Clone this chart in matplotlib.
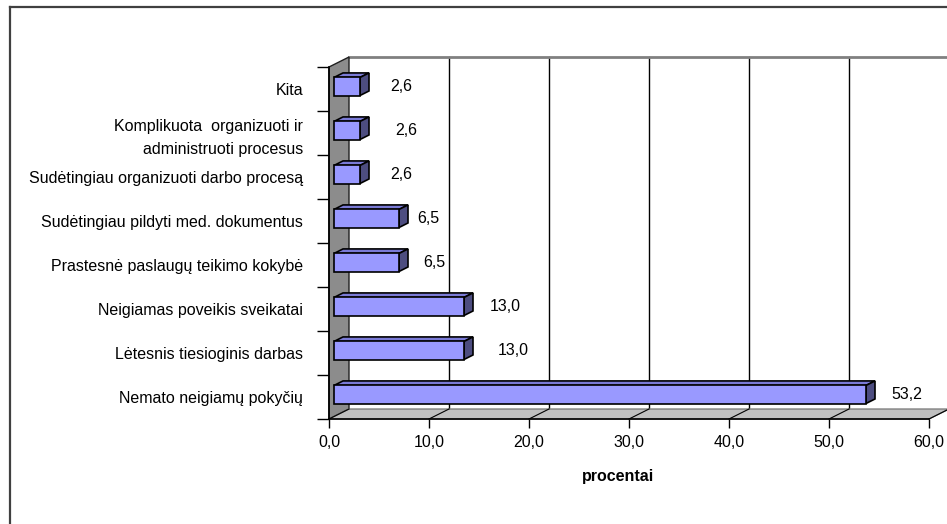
import matplotlib
matplotlib.use("Agg")
import matplotlib.pyplot as plt
from matplotlib.patches import Polygon, Rectangle
from matplotlib.lines import Line2D

plt.rcParams["font.family"] = ["Liberation Sans", "DejaVu Sans"]

# Categories listed bottom to top
categories = [
    "Nemato neigiamų pokyčių",
    "Lėtesnis tiesioginis darbas",
    "Neigiamas poveikis sveikatai",
    "Prastesnė paslaugų teikimo kokybė",
    "Sudėtingiau pildyti med. dokumentus",
    "Sudėtingiau organizuoti darbo procesą",
    "Komplikuota  organizuoti ir\nadministruoti procesus",
    "Kita",
]
values = [53.2, 13.0, 13.0, 6.5, 6.5, 2.6, 2.6, 2.6]
value_labels = ["53,2", "13,0", "13,0", "6,5", "6,5", "2,6", "2,6", "2,6"]
x_ticks = [0, 10, 20, 30, 40, 50, 60]
x_tick_labels = ["0,0", "10,0", "20,0", "30,0", "40,0", "50,0", "60,0"]
x_label = "procentai"

# gap between each bar end and its value label (x units)
label_gap = [2.5, 3.4, 2.6, 2.4, 1.8, 3.0, 3.5, 3.0]

FS = 11.5

W, H = 947, 524
fig = plt.figure(figsize=(W / 100, H / 100), dpi=100)

# front plane of the plot in pixels: x 329..929, y 67..419
ax = fig.add_axes([329 / W, (H - 419) / H, 600 / W, 352 / H])
n = len(categories)
xmax = 60
ax.set_xlim(0, xmax)
ax.set_ylim(0, n)

# depth offset of the back wall in data units
DX, DY = 2.0, 0.227
# bar depth: front face and back face offsets
FX, FY = 0.5, 0.057
BX, BY = 1.4, 0.16
bar_h = 0.41

# back wall gridlines and top edge
for xv in x_ticks[1:-1]:
    ax.add_line(Line2D([xv + DX, xv + DX], [DY, n + DY], color="black",
                       lw=1.0, clip_on=False, zorder=1))
ax.add_line(Line2D([DX, xmax + DX], [n + DY, n + DY], color="#808080",
                   lw=2.0, clip_on=False, zorder=1))

# left side wall
ax.add_patch(Polygon([(0, 0), (0, n), (DX, n + DY), (DX, DY)], closed=True,
                     facecolor="#8c8c8c", edgecolor="#202020", lw=1.0,
                     clip_on=False, zorder=2))
# floor
ax.add_patch(Polygon([(0, 0), (xmax, 0), (xmax + DX, DY), (DX, DY)], closed=True,
                     facecolor="#c0c0c0", edgecolor="#808080", lw=1.0,
                     clip_on=False, zorder=2))
for xv in x_ticks:
    ax.add_line(Line2D([xv, xv + DX], [0, DY], color="black", lw=0.8,
                       clip_on=False, zorder=3))

# 3D bars
front_c, top_c, side_c = "#9999ff", "#7a7ad6", "#4d4d80"
for i, v in enumerate(values):
    y0 = i + 0.5 - bar_h / 2
    y1 = i + 0.5 + bar_h / 2
    ax.add_patch(Polygon([(FX, y1 + FY), (v + FX, y1 + FY), (v + BX, y1 + BY), (BX, y1 + BY)],
                         closed=True, facecolor=top_c, edgecolor="black", lw=1.2,
                         clip_on=False, zorder=4))
    ax.add_patch(Polygon([(v + FX, y0 + FY), (v + FX, y1 + FY), (v + BX, y1 + BY), (v + BX, y0 + BY)],
                         closed=True, facecolor=side_c, edgecolor="black", lw=1.2,
                         clip_on=False, zorder=4))
    ax.add_patch(Rectangle((FX, y0 + FY), v, bar_h, facecolor=front_c,
                           edgecolor="black", lw=1.2, clip_on=False, zorder=5))
    ax.text(v + FX + label_gap[i], i + 0.5 + FY, value_labels[i], ha="left",
            va="center", fontsize=FS, color="black", zorder=6)

# axes lines and ticks
for s in ["top", "right"]:
    ax.spines[s].set_visible(False)
for s in ["left", "bottom"]:
    ax.spines[s].set_color("black")
    ax.spines[s].set_linewidth(1.2)
    ax.spines[s].set_zorder(3)
ax.patch.set_visible(False)

ax.set_xticks(x_ticks)
ax.set_xticklabels(x_tick_labels, fontsize=FS)
ax.tick_params(axis="x", direction="out", length=6.5, width=1.0, pad=5)

ax.set_yticks(range(n + 1))
ax.set_yticklabels([])
ax.set_yticks([i + 0.5 for i in range(n)], minor=True)
ax.set_yticklabels(categories, minor=True, fontsize=FS, linespacing=1.65)
ax.tick_params(axis="y", which="major", direction="out", length=8.6, width=1.0)
ax.tick_params(axis="y", which="minor", length=0, pad=18.7)

fig.text(618 / W, 1 - 476 / H, x_label, ha="center", va="center",
         fontsize=FS, fontweight="bold")

# outer chart frame
fig.add_artist(Line2D([10 / W, 10 / W], [0, 1 - 7 / H], transform=fig.transFigure,
                      color="#404040", lw=1.6))
fig.add_artist(Line2D([10 / W, 1], [1 - 7 / H, 1 - 7 / H], transform=fig.transFigure,
                      color="#404040", lw=1.6))

fig.savefig("out.png", dpi=100)
